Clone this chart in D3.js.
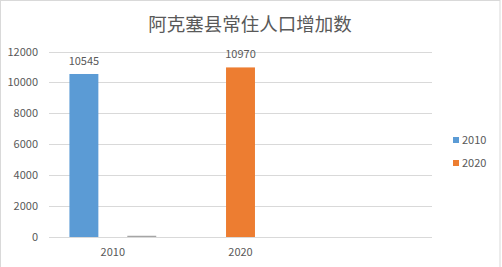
<!DOCTYPE html>
<html>
<head>
<meta charset="utf-8">
<script src="https://cdn.jsdelivr.net/npm/d3@7"></script>
<style>
  body { margin: 0; background: #fff; }
  text { font-family: "Noto Sans CJK SC", "Noto Sans", sans-serif; fill: #595959; }
</style>
</head>
<body>
<div id="chart"></div>
<script>
var categories = ['2010', '2020', ''];
var seriesNames = ['2010', '2020', ''];
var values2010 = [10545, null, null];
var values2020 = [null, 10970, null];
var valuesOther = [80, null, null];
var yTicks = [0, 2000, 4000, 6000, 8000, 10000, 12000];
var colors = ['#5b9bd5', '#ed7d31', '#a5a5a5'];

var width = 502, height = 267;
var margin = {left: 49, right: 70, top: 51.5, bottom: 30};

var svg = d3.select('#chart').append('svg')
  .attr('width', width)
  .attr('height', height);

// chart frame
svg.append('rect')
  .attr('x', 0.5).attr('y', 0.5)
  .attr('width', 499.5).attr('height', 280)
  .attr('fill', 'none')
  .attr('stroke', '#d9d9d9');

var x0 = d3.scaleBand()
  .domain(categories.map(function(d, i) { return i; }))
  .range([margin.left, 432]);

var bw = x0.bandwidth();
var x1 = d3.scaleBand()
  .domain([0, 1, 2])
  .range([bw * 0.16, bw * 0.84]);

var y = d3.scaleLinear()
  .domain([0, 12000])
  .range([237, margin.top]);

// grid
svg.append('g')
  .selectAll('line')
  .data(yTicks)
  .enter()
  .append('line')
  .attr('x1', margin.left)
  .attr('x2', 432)
  .attr('y1', function(d) { return Math.round(y(d)) + 0.5; })
  .attr('y2', function(d) { return Math.round(y(d)) + 0.5; })
  .attr('stroke', '#d9d9d9');

// y labels
var yAxis = svg.append('g')
  .attr('transform', 'translate(' + 38 + ',0)')
  .call(d3.axisLeft(y).tickValues(yTicks).tickFormat(d3.format('d')).tickSize(0).tickPadding(0));
yAxis.select('.domain').remove();
yAxis.selectAll('text')
  .style('font-size', '11px')
  .attr('fill', '#595959');

// x labels
svg.append('g')
  .selectAll('text')
  .data(categories)
  .enter()
  .append('text')
  .attr('x', function(d, i) { return x0(i) + bw / 2; })
  .attr('y', 256)
  .attr('text-anchor', 'middle')
  .style('font-size', '11px')
  .text(function(d) { return d; });

var allSeries = [values2010, values2020, valuesOther];

allSeries.forEach(function(vals, s) {
  var g = svg.append('g');
  var pts = vals.map(function(v, i) { return {v: v, i: i}; })
    .filter(function(d) { return d.v != null; });

  g.selectAll('rect')
    .data(pts)
    .enter()
    .append('rect')
    .attr('x', function(d) { return x0(d.i) + x1(s); })
    .attr('width', x1.bandwidth())
    .attr('y', function(d) { return y(d.v); })
    .attr('height', function(d) { return y(0) - y(d.v); })
    .attr('fill', colors[s]);

  if (s < 2) {
    g.selectAll('text')
      .data(pts)
      .enter()
      .append('text')
      .attr('x', function(d) { return x0(d.i) + x1(s) + x1.bandwidth() / 2; })
      .attr('y', function(d) { return y(d.v) - 9; })
      .attr('text-anchor', 'middle')
      .style('font-size', '11px')
      .attr('fill', '#404040')
      .text(function(d) { return d.v; });
  }
});

// title
svg.append('text')
  .attr('x', 250)
  .attr('y', 31)
  .attr('text-anchor', 'middle')
  .style('font-size', '18.5px')
  .text('阿克塞县常住人口增加数');

// legend
var legend = svg.append('g')
  .selectAll('g')
  .data(seriesNames.slice(0, 2))
  .enter()
  .append('g')
  .attr('transform', function(d, i) { return 'translate(453,' + (137 + i * 23) + ')'; });

legend.append('rect')
  .attr('width', 6).attr('height', 6)
  .attr('fill', function(d, i) { return colors[i]; });

legend.append('text')
  .attr('x', 9)
  .attr('y', 3)
  .attr('dy', '0.35em')
  .style('font-size', '11px')
  .text(function(d) { return d; });
</script>
</body>
</html>
